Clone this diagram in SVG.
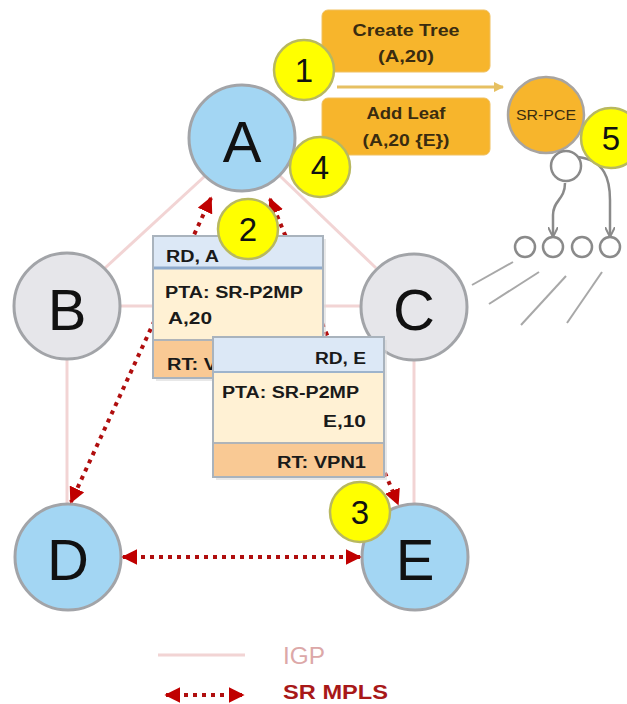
<svg xmlns="http://www.w3.org/2000/svg" width="627" height="704" viewBox="0 0 627 704">
<style>
.igp{stroke:#f2d4d4;stroke-width:3;fill:none}
.sr{stroke:#b00e0e;stroke-width:4;stroke-dasharray:4 5;fill:none}
.node text{font-family:"Liberation Sans",Arial,sans-serif;font-size:58px;fill:#111;text-anchor:middle}
.blue{fill:#a3d6f3;stroke:#a2a4a8;stroke-width:3}
.grey{fill:#e6e6ea;stroke:#a2a4a8;stroke-width:3}
.badge circle{fill:#ffff00;stroke:#b8b860;stroke-width:2.5}
.badge text{font-family:"Liberation Sans",Arial,sans-serif;font-size:33px;fill:#111;text-anchor:middle}
.ob rect{fill:#f7b52c;stroke:#f0c060;stroke-width:1}
.ob text{font-family:"Liberation Sans",Arial,sans-serif;font-size:17px;font-weight:bold;fill:#3a2c10;text-anchor:middle}
.bx text{font-family:"Liberation Sans",Arial,sans-serif;font-size:16px;font-weight:bold;fill:#1a1a1a}
.hd{fill:#dce8f6}
.bd{fill:#fff1d4}
.ft{fill:#f9c994}
.frame{fill:none;stroke:#a9b3bd;stroke-width:2}
.tree{stroke:#8a8a8a;stroke-width:2.5;fill:none}
.leaf{stroke:#8a8a8a;stroke-width:2.5;fill:#fff}
.ray{stroke:#a8a8a8;stroke-width:2;fill:none}
</style>
<defs>
<marker id="red" viewBox="0 0 10 10" refX="9" refY="5" markerWidth="4" markerHeight="4" orient="auto-start-reverse" markerUnits="strokeWidth">
<path d="M0,0 L10,5 L0,10 z" fill="#c00000"/>
</marker>
<marker id="gold" viewBox="0 0 10 10" refX="9" refY="5" markerWidth="3.5" markerHeight="3.5" orient="auto" markerUnits="strokeWidth">
<path d="M0,0 L10,5 L0,10 z" fill="#e6c062"/>
</marker>
<marker id="gray" viewBox="0 0 10 10" refX="9" refY="5" markerWidth="4" markerHeight="4" orient="auto" markerUnits="strokeWidth">
<path d="M0,0 L10,5 L0,10 M0,5 L10,5" stroke="#8a8a8a" stroke-width="2" fill="none"/>
</marker>
</defs>
<g id="connectors">
<line class="igp" x1="205" y1="176" x2="105" y2="268"/>
<line class="igp" x1="280" y1="176" x2="376" y2="268"/>
<line class="igp" x1="120" y1="306" x2="361" y2="306"/>
<line class="igp" x1="67" y1="360" x2="67" y2="504"/>
<line class="igp" x1="414" y1="361" x2="414" y2="504"/>
<line class="ray" x1="472" y1="285" x2="513" y2="262"/>
<line class="ray" x1="489" y1="304" x2="539" y2="272"/>
<line class="ray" x1="521" y1="325" x2="566" y2="276"/>
<line class="ray" x1="567" y1="323" x2="602" y2="272"/>
<line x1="337" y1="87" x2="503" y2="87" stroke="#e6c062" stroke-width="3" marker-end="url(#gold)"/>
<path class="tree" d="M565,183 C565,200 553,200 553,215 L553,236" marker-end="url(#gray)"/>
<path class="tree" d="M578,157 C605,160 610,180 610,200 L610,236" marker-end="url(#gray)"/>
</g>
<g id="sr-pce">
<circle cx="546" cy="115" r="38" fill="#f7b52c" stroke="#a8a4a0" stroke-width="2.5"/>
<text x="546" y="120" font-family="Liberation Sans,Arial,sans-serif" font-size="14" fill="#3a2c10" text-anchor="middle" textLength="60" lengthAdjust="spacingAndGlyphs">SR-PCE</text>
</g>
<g id="tree-nodes">
<circle class="leaf" cx="566" cy="166" r="15"/>
<circle class="leaf" cx="525" cy="247" r="10"/>
<circle class="leaf" cx="553" cy="247" r="10"/>
<circle class="leaf" cx="582" cy="247" r="10"/>
<circle class="leaf" cx="610" cy="247" r="10"/>
</g>
<g id="A" class="node"><circle class="blue" cx="242" cy="138" r="53"/><text x="242" y="162">A</text></g>
<g id="B" class="node"><circle class="grey" cx="67" cy="306" r="53"/><text x="67" y="330">B</text></g>
<g id="C" class="node"><circle class="grey" cx="414" cy="307" r="53"/><text x="414" y="330">C</text></g>
<g id="D" class="node"><circle class="blue" cx="68" cy="557" r="53"/><text x="68" y="580">D</text></g>
<g id="E" class="node"><circle class="blue" cx="415" cy="557" r="53"/><text x="415" y="580">E</text></g>
<g id="sr-links">
<line class="sr" x1="211" y1="198" x2="71" y2="502" marker-start="url(#red)" marker-end="url(#red)"/>
<line class="sr" x1="270" y1="199" x2="398" y2="504" marker-start="url(#red)" marker-end="url(#red)"/>
<line class="sr" x1="123" y1="557" x2="360" y2="557" marker-start="url(#red)" marker-end="url(#red)"/>
</g>
<g id="create-tree" class="ob">
<rect x="322" y="10" width="168" height="62" rx="6"/>
<text x="406" y="36" textLength="107" lengthAdjust="spacingAndGlyphs">Create Tree</text>
<text x="406" y="62" textLength="56" lengthAdjust="spacingAndGlyphs">(A,20)</text>
</g>
<g id="add-leaf" class="ob">
<rect x="322" y="98" width="168" height="57" rx="6"/>
<text x="406" y="119" textLength="79" lengthAdjust="spacingAndGlyphs">Add Leaf</text>
<text x="406" y="146" textLength="87" lengthAdjust="spacingAndGlyphs">(A,20 {E})</text>
</g>
<g id="box-rd-a" class="bx">
<rect x="156" y="239" width="170" height="142" fill="#d8d8d8" opacity="0.6"/>
<rect class="hd" x="153" y="236" width="170" height="33"/>
<rect class="bd" x="153" y="269" width="170" height="71"/>
<rect class="ft" x="153" y="340" width="170" height="38"/>
<line x1="153" y1="268" x2="323" y2="268" stroke="#8eaacc" stroke-width="3"/>
<line x1="153" y1="340" x2="323" y2="340" stroke="#b0b4b8" stroke-width="2"/>
<rect class="frame" x="153" y="236" width="170" height="142"/>
<text x="166" y="262" textLength="53" lengthAdjust="spacingAndGlyphs">RD, A</text>
<text x="165" y="298" textLength="138" lengthAdjust="spacingAndGlyphs">PTA: SR-P2MP</text>
<text x="168" y="324" textLength="44" lengthAdjust="spacingAndGlyphs">A,20</text>
<text x="167" y="370" textLength="89" lengthAdjust="spacingAndGlyphs">RT: VPN1</text>
</g>
<g id="box-rd-e" class="bx">
<rect x="216" y="340" width="171" height="140" fill="#d8d8d8" opacity="0.6"/>
<rect class="hd" x="213" y="337" width="171" height="35"/>
<rect class="bd" x="213" y="372" width="171" height="71"/>
<rect class="ft" x="213" y="443" width="171" height="34"/>
<line x1="213" y1="372" x2="384" y2="372" stroke="#9eb4cc" stroke-width="2"/>
<line x1="213" y1="443" x2="384" y2="443" stroke="#b0b4b8" stroke-width="2"/>
<rect class="frame" x="213" y="337" width="171" height="140"/>
<text x="366" y="364" text-anchor="end" textLength="51" lengthAdjust="spacingAndGlyphs">RD, E</text>
<text x="222" y="398" textLength="137" lengthAdjust="spacingAndGlyphs">PTA: SR-P2MP</text>
<text x="366" y="427" text-anchor="end" textLength="43" lengthAdjust="spacingAndGlyphs">E,10</text>
<text x="366" y="468" text-anchor="end" textLength="89" lengthAdjust="spacingAndGlyphs">RT: VPN1</text>
</g>
<g id="badge-1" class="badge"><circle cx="304" cy="70" r="30"/><text x="304" y="82">1</text></g>
<g id="badge-2" class="badge"><circle cx="248" cy="229" r="30"/><text x="248" y="241">2</text></g>
<g id="badge-3" class="badge"><circle cx="360" cy="512" r="30"/><text x="360" y="524">3</text></g>
<g id="badge-4" class="badge"><circle cx="320" cy="167" r="30"/><text x="320" y="179">4</text></g>
<g id="badge-5" class="badge"><circle cx="611" cy="138" r="30"/><text x="611" y="150">5</text></g>
<g id="legend">
<line class="igp" x1="158" y1="655" x2="245" y2="655"/>
<text x="283" y="664" font-family="Liberation Sans,Arial,sans-serif" font-size="23" fill="#dca8a8" textLength="42" lengthAdjust="spacingAndGlyphs">IGP</text>
<line class="sr" x1="166" y1="695" x2="243" y2="695" stroke-width="3.5" marker-start="url(#red)" marker-end="url(#red)"/>
<text x="283" y="699" font-family="Liberation Sans,Arial,sans-serif" font-size="20" font-weight="bold" fill="#a81818" textLength="105" lengthAdjust="spacingAndGlyphs">SR MPLS</text>
</g>
</svg>
